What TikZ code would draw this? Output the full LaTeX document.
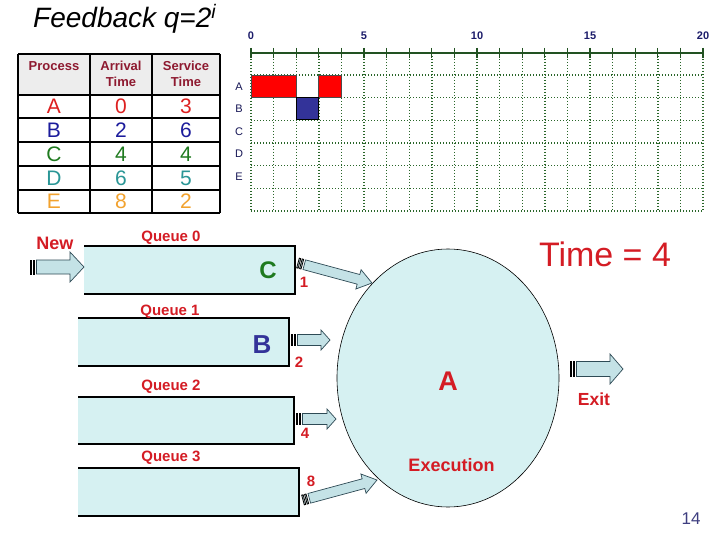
\documentclass[tikz,border=0pt]{standalone}
\usepackage{fontspec}
\setmainfont{Liberation Sans}
\usetikzlibrary{shapes.geometric}
\definecolor{tred}{HTML}{D41C24}
\definecolor{hdrred}{HTML}{8E1A30}
\definecolor{pA}{HTML}{DD2020}
\definecolor{pB}{HTML}{1C1C9C}
\definecolor{pC}{HTML}{1F7A1F}
\definecolor{pD}{HTML}{2A9696}
\definecolor{pE}{HTML}{F2A22E}
\definecolor{qfill}{HTML}{D6F1F2}
\definecolor{afill}{HTML}{C4E2E6}
\definecolor{aline}{HTML}{2E4A55}
\definecolor{gridg}{HTML}{2A662A}
\definecolor{navy}{HTML}{1C1C6A}
\definecolor{bbar}{HTML}{333399}
\definecolor{hdrfill}{HTML}{EDEDED}
\newcommand\fs[1]{\fontsize{#1}{#1}\selectfont}
\tikzset{
  blkbody/.style={fill=afill, draw=aline, line width=0.7pt},
  blkstripe/.style={fill=afill, draw=black, line width=0.8pt},
  qbox/.style={fill=qfill, inner sep=0pt, outer sep=0pt},
  qborder/.style={draw=black, line width=2.6pt},
  lbl/.style={inner sep=0pt, text depth=0pt},
  gdot/.style={draw=gridg, line width=1.4pt, dash pattern=on 1.4pt off 1.6pt},
  gaxis/.style={draw=gridg!80!black, line width=1.3pt},
  tline/.style={draw=black, line width=1.8pt},
}
\makeatletter
\newcommand\blkarrow[5]{%
  \pgfmathanglebetweenpoints{\pgfpointanchor{#1}{center}}{\pgfpointanchor{#2}{center}}%
  \edef\blkang{\pgfmathresult}%
  \pgfpointdiff{\pgfpointanchor{#1}{center}}{\pgfpointanchor{#2}{center}}%
  \pgfmathveclen{\pgf@x}{\pgf@y}%
  \edef\blklen{\pgfmathresult}%
  \begin{scope}[shift={(#1)}, rotate=\blkang, x=1pt, y=1pt]
    \filldraw[blkbody] (6.5,-#3) -- ({\blklen-#5},-#3) -- ({\blklen-#5},-#4) -- (\blklen,0)
      -- ({\blklen-#5},#4) -- ({\blklen-#5},#3) -- (6.5,#3) -- cycle;
    \filldraw[blkstripe] (0,-#3) rectangle (1.5,#3);
    \filldraw[blkstripe] (3,-#3) rectangle (4.5,#3);
  \end{scope}}
\makeatother
\begin{document}
\begin{tikzpicture}[x=1pt, y=-1pt]
\useasboundingbox (0,0) rectangle (720,540);
\fill[white] (0,0) rectangle (720,540);

% title
\node[lbl, anchor=base west] (title) at (33,28) {\fs{28}\itshape Feedback q=2\textsuperscript{\itshape i}};

% table
\fill[hdrfill] (18,54) rectangle (220,95);
\foreach \yy in {54,95,118,142,166,190,213} \draw[tline] (18,\yy) -- (220,\yy);
\foreach \xx in {18,90,152,220} \draw[tline] (\xx,54) -- (\xx,213);
\node[lbl, text=hdrred, font=\bfseries\fs{13}] (hP) at (54,66) {Process};
\node[lbl, text=hdrred, font=\bfseries\fontsize{13}{16}\selectfont, align=center, text depth=] (hA) at (121,74) {Arrival\\Time};
\node[lbl, text=hdrred, font=\bfseries\fontsize{13}{16}\selectfont, align=center, text depth=] (hS) at (186,74) {Service\\Time};
\foreach \p/\a/\s/\c/\yy in {A/0/3/pA/106.5, B/2/6/pB/130, C/4/4/pC/154, D/6/5/pD/178, E/8/2/pE/201.5}{
  \node[lbl, text=\c, font=\fs{21}] (p\p) at (54,\yy) {\p};
  \node[lbl, text=\c, font=\fs{21}] (a\p) at (121,\yy) {\a};
  \node[lbl, text=\c, font=\fs{21}] (s\p) at (186,\yy) {\s};
}

% gantt chart
\foreach \i in {0,...,20} \draw[gdot] (251+22.6*\i,53) -- (251+22.6*\i,211);
\foreach \k in {0,...,6} \draw[gdot] (251,75+22.67*\k) -- (703,75+22.67*\k);
\draw[gaxis] (251,53) -- (703,53);
\foreach \i in {0,...,20} \draw[gaxis] (251+22.6*\i,48) -- (251+22.6*\i,58);
\foreach \k in {0,5,10,15,20} \node[lbl, text=navy, font=\bfseries\fs{11}] (t\k) at (251+22.6*\k,36) {\k};
\foreach \r [count=\k from 0] in {A,B,C,D,E} \node[lbl, text=navy!80!black, font=\fs{11}] (r\r) at (239,86.7+22.4*\k) {\r};
\draw[fill=red, draw=black!70, line width=0.8pt] (251,75) rectangle (296.2,97.7);
\draw[fill=red, draw=black!70, line width=0.8pt] (318.8,75) rectangle (341.4,97.7);
\draw[fill=bbar, draw=black, line width=0.8pt] (296.2,97.7) rectangle (318.8,119.5);

% queues
\node[qbox, minimum width=211pt, minimum height=48pt] (q0) at (189.5,270) {};
\node[qbox, minimum width=211pt, minimum height=48pt] (q1) at (183.5,342) {};
\node[qbox, minimum width=216pt, minimum height=47pt] (q2) at (186,420.5) {};
\node[qbox, minimum width=221pt, minimum height=48pt] (q3) at (188.5,492) {};
\foreach \q in {q0,q1,q2,q3} \draw[qborder] (\q.north west) -- (\q.north east) -- (\q.south east) -- (\q.south west);

\node[lbl, text=tred, font=\bfseries\fs{18}] (new) at (55,243) {New};
\node[lbl, text=tred, font=\bfseries\fs{15}] (lq0) at (171,236.5) {Queue 0};
\node[lbl, text=tred, font=\bfseries\fs{15}] (lq1) at (170,310.5) {Queue 1};
\node[lbl, text=tred, font=\bfseries\fs{15}] (lq2) at (171,385) {Queue 2};
\node[lbl, text=tred, font=\bfseries\fs{15}] (lq3) at (171,456.5) {Queue 3};
\node[lbl, text=pC, font=\bfseries\fs{24}] (jobC) at (268,270.5) {C};
\node[lbl, text=bbar, font=\bfseries\fs{26}] (jobB) at (262,345) {B};

% execution
\node[ellipse, draw=black, line width=0.6pt, fill=qfill, minimum width=222pt, minimum height=258pt, inner sep=0pt] (exec) at (448,378) {};
\node[lbl, text=tred, font=\bfseries\fs{27}] (jobA) at (448,381) {A};
\node[lbl, text=tred, font=\bfseries\fs{18}] (execl) at (451.5,464.7) {Execution};
\node[lbl, text=tred, font=\fs{34}] (time) at (605,254) {Time = 4};
\node[lbl, text=tred, font=\bfseries\fs{17.5}] (exitl) at (594,399) {Exit};
\node[lbl, text=navy!85!white, font=\fs{17}] (page) at (691,518.5) {14};

% arrows
\coordinate (nA) at (30,267);   \coordinate (nB) at (84,267);
\coordinate (o1) at (298,263);  \coordinate (i1) at (372,283);
\coordinate (o2) at (291,340);  \coordinate (i2) at (330,340);
\coordinate (o4) at (296,419);  \coordinate (i4) at (336,419);
\coordinate (o8) at (303,500);  \coordinate (i8) at (377,480);
\coordinate (xA) at (570,369);  \coordinate (xB) at (623,369);
\blkarrow{nA}{nB}{7}{15}{14}
\blkarrow{o1}{i1}{5}{10}{14}
\blkarrow{o2}{i2}{5.5}{10}{9}
\blkarrow{o4}{i4}{5.5}{10}{9}
\blkarrow{o8}{i8}{5}{10}{14}
\blkarrow{xA}{xB}{7.5}{15}{13}

\node[lbl, text=tred, font=\bfseries\fs{15}] (w1) at (304,282) {1};
\node[lbl, text=tred, font=\bfseries\fs{15}] (w2) at (299,362) {2};
\node[lbl, text=tred, font=\bfseries\fs{15}] (w4) at (305,433.7) {4};
\node[lbl, text=tred, font=\bfseries\fs{15}] (w8) at (311,481.7) {8};
\end{tikzpicture}
\end{document}
